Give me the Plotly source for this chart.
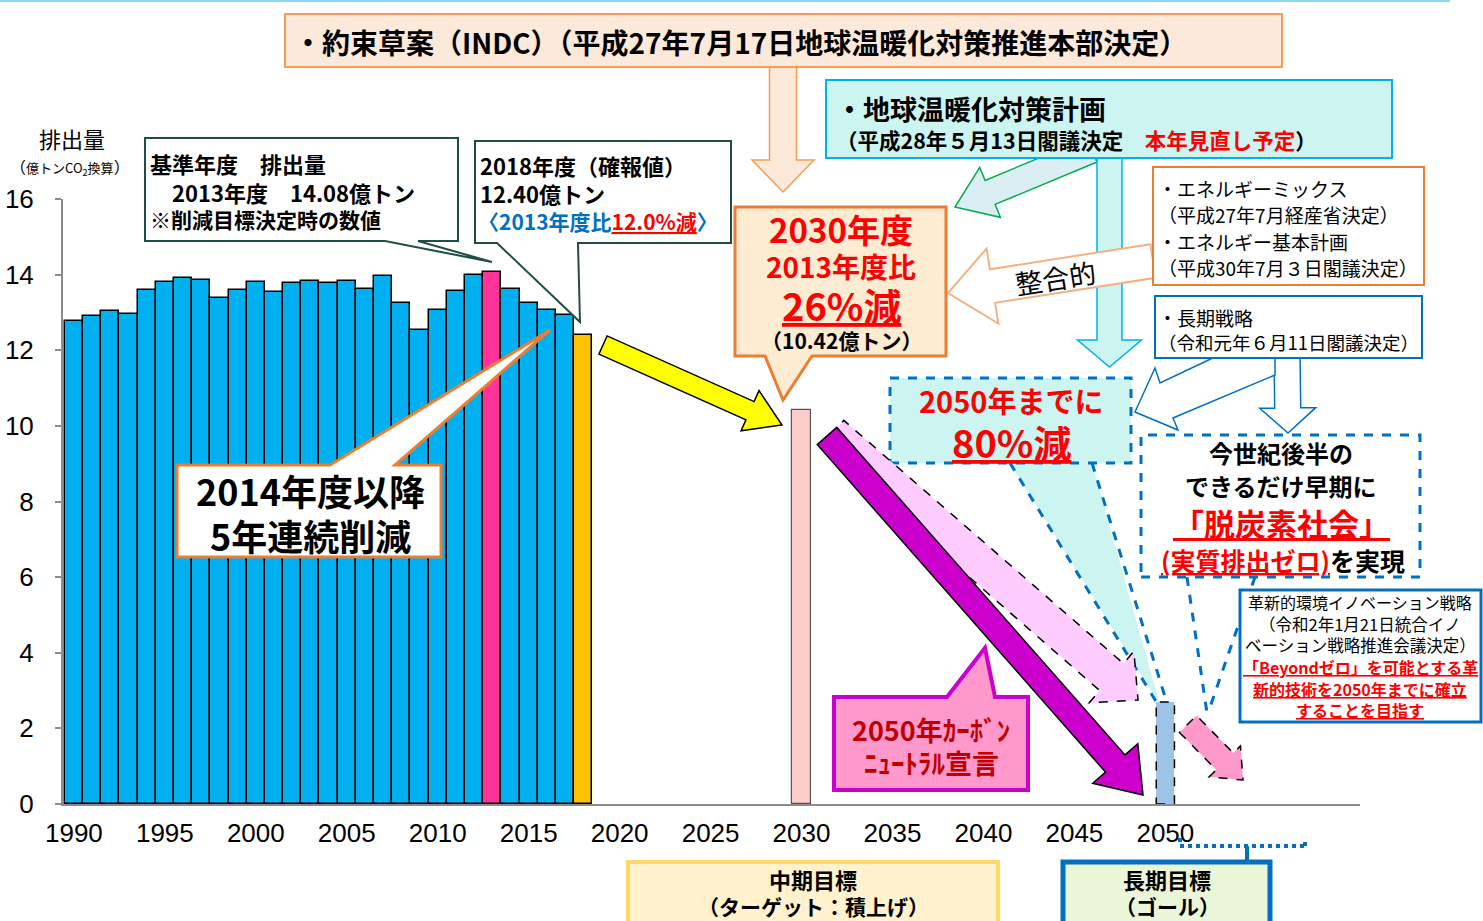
import math
import plotly.graph_objects as go

# ---------------- data ----------------
years_hist = list(range(1990, 2019))
emissions_hist = [12.77, 12.90, 13.03, 12.95, 13.60, 13.81, 13.92, 13.85, 13.37, 13.60,
                  13.81, 13.55, 13.78, 13.84, 13.77, 13.83, 13.62, 13.97, 13.26, 12.53,
                  13.06, 13.57, 13.99, 14.08, 13.62, 13.24, 13.06, 12.93, 12.40]
base_year = 2013
latest_year = 2018
target_years = [2030, 2050]
target_values = [10.42, 2.7]
x_ticks = [1990, 1995, 2000, 2005, 2010, 2015, 2020, 2025, 2030, 2035, 2040, 2045, 2050]
y_ticks = [0, 2, 4, 6, 8, 10, 12, 14, 16]

# ---------------- layout geometry ----------------
W, H = 1483, 921
L, R, T, B = 63, 1360, 199, 804
JP = "Noto Sans CJK JP"
NUM = "Liberation Sans Narrow, Arial Narrow, Liberation Sans, Arial"


def px(x):
    return (x - L) / (R - L)


def py(y):
    return (B - y) / (B - T)


shapes = []
annotations = []


def rect(x0, y0, x1, y1, fill, line, width, dash="solid"):
    shapes.append(dict(type="rect", xref="paper", yref="paper",
                       x0=px(x0), x1=px(x1), y0=py(y1), y1=py(y0),
                       fillcolor=fill, line=dict(color=line, width=width, dash=dash),
                       layer="above"))


def poly(pts, fill, line, width, dash="solid"):
    path = "M " + " L ".join(f"{px(x):.5f},{py(y):.5f}" for x, y in pts) + " Z"
    shapes.append(dict(type="path", path=path, xref="paper", yref="paper",
                       fillcolor=fill, line=dict(color=line, width=width, dash=dash),
                       layer="above"))


def seg(x0, y0, x1, y1, color, width, dash="solid"):
    shapes.append(dict(type="line", xref="paper", yref="paper",
                       x0=px(x0), y0=py(y0), x1=px(x1), y1=py(y1),
                       line=dict(color=color, width=width, dash=dash), layer="above"))


def arrow_pts(S, Tp, sw, hl, hw):
    sx, sy = S
    tx, ty = Tp
    dx, dy = tx - sx, ty - sy
    ln = math.hypot(dx, dy)
    ux, uy = dx / ln, dy / ln
    nx, ny = -uy, ux
    bx, by = tx - ux * hl, ty - uy * hl
    return [(sx + nx * sw, sy + ny * sw), (bx + nx * sw, by + ny * sw),
            (bx + nx * hw, by + ny * hw), (tx, ty),
            (bx - nx * hw, by - ny * hw), (bx - nx * sw, by - ny * sw),
            (sx - nx * sw, sy - ny * sw)]


def txt(x, y, s, size, color="black", bold=True, xanchor="center", angle=0):
    annotations.append(dict(x=px(x), y=py(y), xref="paper", yref="paper",
                            text=("<b>" + s + "</b>") if bold else s,
                            showarrow=False, xanchor=xanchor, yanchor="middle",
                            textangle=angle,
                            font=dict(size=size, color=color, family=JP)))


RED = "#FF0000"
BLUE = "#0070C0"
ORANGE = "#ED7D31"
DKGREEN = "#1F4E48"

# top thin line
seg(0, 1, 1450, 1, "#8AD8EE", 2)

# INDC arrow + box
poly(arrow_pts((783, 60), (783, 192), 13.5, 32, 31), "#FDE9D9", "#F59D56", 1.5)
rect(285, 14, 1282, 67, "#FDE9D9", "#F59D56", 2)
txt(292, 42, "・約束草案（INDC）（平成27年7月17日地球温暖化対策推進本部決定）", 28, xanchor="left")

# 地球温暖化対策計画 arrows + box
poly(arrow_pts((1092, 150), (955, 207), 13, 38, 27), "#DAEEF3", "#00B050", 1.5)
poly(arrow_pts((1109.5, 150), (1109.5, 367), 12.5, 27, 32), "#CCF5F2", "#00B0F0", 1.5)
rect(826, 80, 1392, 158, "#CCF5F2", "#00B0F0", 2)
txt(834, 108, "・地球温暖化対策計画", 27, xanchor="left")
txt(834, 139, "（平成28年５月13日閣議決定　<span style='color:#FF0000'>本年見直し予定</span>）", 21.5, xanchor="left")

# 整合的 arrow + energy box
poly(arrow_pts((1153, 261), (948, 293), 17, 45, 38), "#FFFFFF", "#F4B183", 2)
txt(1055, 277, "整合的", 27, bold=False, angle=-9)
rect(1153, 167, 1424, 285, "#FFFFFF", ORANGE, 2)
txt(1156, 188, "・エネルギーミックス", 19, bold=False, xanchor="left")
txt(1156, 214, "（平成27年7月経産省決定）", 19, bold=False, xanchor="left")
txt(1156, 241, "・エネルギー基本計画", 19, bold=False, xanchor="left")
txt(1156, 267, "（平成30年7月３日閣議決定）", 19, bold=False, xanchor="left")

# 2030 callout
poly([(735, 207), (946, 207), (946, 356), (812, 356), (783, 400), (765, 356), (735, 356)],
     "#FDEBD2", ORANGE, 3)
txt(841, 229, "2030年度", 33, RED)
txt(841, 266, "2013年度比", 28, RED)
txt(841, 304, "<u>26%減</u>", 38, RED)
txt(841, 340, "（10.42億トン）", 21)

# 長期戦略 arrows + box
poly(arrow_pts((1287, 350), (1288, 433), 13, 25, 28), "#FFFFFF", BLUE, 1.5)
poly([(1217, 356), (1160, 383), (1155, 368), (1135, 412), (1178, 430), (1173, 418),
      (1275, 375), (1275, 356)], "#FFFFFF", BLUE, 1.5)
rect(1155, 296, 1422, 358, "#FFFFFF", BLUE, 2)
txt(1156, 317, "・長期戦略", 19, bold=False, xanchor="left")
txt(1156, 342, "（令和元年６月11日閣議決定）", 18.5, bold=False, xanchor="left")

# 2050年までに callout
poly([(1010, 463), (1160, 705), (1092, 463)], "#CCF5F2", "rgba(0,0,0,0)", 0)
seg(1010, 463, 1157, 703, BLUE, 3, "dash")
seg(1092, 463, 1167, 703, BLUE, 3, "dash")
rect(890, 378, 1131, 463, "#CCF5F2", BLUE, 3, "dash")
txt(1011, 400, "2050年までに", 29, RED)
txt(1011, 441, "<u>80%減</u>", 38, RED)

# 今世紀後半 box
seg(1187, 577, 1207, 713, BLUE, 3, "dash")
seg(1255, 577, 1208, 713, BLUE, 3, "dash")
rect(1141, 435, 1420, 577, "#FFFFFF", BLUE, 3, "dash")
txt(1281, 452, "今世紀後半の", 24)
txt(1281, 485, "できるだけ早期に", 24)
txt(1281, 522, "<u>「脱炭素社会」</u>", 31, RED)
txt(1283, 560, "<span style='color:#FF0000'><u>(実質排出ゼロ)</u></span>を実現", 25)

# innovation box
rect(1240, 590, 1481, 722, "#FFFFFF", BLUE, 3)
txt(1360, 602, "革新的環境イノベーション戦略", 16, bold=False)
txt(1360, 624, "（令和2年1月21日統合イノ", 16.5, bold=False)
txt(1360, 645, "ベーション戦略推進会議決定）", 16.5, bold=False)
txt(1360, 667, "<u>「Beyondゼロ」を可能とする革</u>", 16, RED)
txt(1360, 689, "<u>新的技術を2050年までに確立</u>", 16, RED)
txt(1360, 710, "<u>することを目指す</u>", 16, RED)

# pink small arrow
poly(arrow_pts((1188, 724), (1243, 780), 12, 26, 22), "#FF99CC", "#000000", 1.5, "dash")

# light pink + purple arrows
poly(arrow_pts((832, 434), (1138, 700), 18, 35, 34), "#FFCCFF", "#000000", 1.5, "dash")
poly(arrow_pts((827, 436), (1143, 795), 13, 42, 30), "#CC00CC", "#000000", 1.5)

# carbon neutral callout
poly([(834, 697), (947, 697), (985, 648), (995, 697), (1028, 697), (1028, 790), (834, 790)],
     "#FF99CC", "#CC00CC", 4)
txt(931, 729, "2050年ｶｰﾎﾞﾝ", 27, "#C00000")
txt(931, 762, "ﾆｭｰﾄﾗﾙ宣言", 27, "#C00000")

# yellow arrow
poly(arrow_pts((603, 345), (782, 425), 10, 35, 22), "#FFFF00", "#000000", 1.5)

# 2014 callout
poly([(177, 465), (330, 465), (550, 330), (395, 465), (441, 465), (441, 557), (177, 557)],
     "#FFFFFF", ORANGE, 3)
txt(310, 490, "2014年度以降", 36)
txt(310, 535, "5年連続削減", 36)

# 基準年度 callout
poly([(145, 138), (458, 138), (458, 241), (418, 241), (492, 262), (385, 241), (145, 241)],
     "#FFFFFF", DKGREEN, 2)
txt(148, 163, "基準年度　排出量", 22, xanchor="left")
txt(148, 192, "　2013年度　14.08億トン", 22, xanchor="left")
txt(148, 219, "※削減目標決定時の数値", 21, xanchor="left")

# 2018 callout
poly([(475, 141), (731, 141), (731, 243), (578, 243), (580, 322), (497, 243), (475, 243)],
     "#FFFFFF", DKGREEN, 2)
txt(478, 165, "2018年度（確報値）", 22, xanchor="left")
txt(478, 193, "12.40億トン", 22, xanchor="left")
txt(476, 221, "<span style='color:#0070C0'>〈2013年度比</span><span style='color:#FF0000'><u>12.0%減</u></span><span style='color:#0070C0'>〉</span>", 21, xanchor="left")

# bottom boxes
rect(628, 862, 998, 935, "#FFF2CC", "#FFD966", 4)
txt(813, 879, "中期目標", 22)
txt(813, 906, "（ターゲット：積上げ）", 21)
rect(1063, 862, 1270, 935, "#EBF5D7", BLUE, 5)
txt(1167, 879, "長期目標", 22)
txt(1167, 906, "（ゴール）", 21)
seg(1180, 838, 1180, 846, BLUE, 4, "dot")
seg(1180, 846, 1305, 846, BLUE, 4, "dot")
seg(1305, 846, 1305, 838, BLUE, 4, "dot")
seg(1247, 846, 1247, 862, BLUE, 4)

# y axis title
txt(72, 138, "排出量", 22, bold=False)
txt(70, 166, "（<span style='font-size:13px'>億トンCO<sub>2</sub>換算</span>）", 16, bold=False)

# 2050 bar dashed outline (data coords)
shapes.append(dict(type="rect", xref="x", yref="y",
                   x0=target_years[1] - 0.5, x1=target_years[1] + 0.5,
                   y0=0, y1=target_values[1],
                   line=dict(color="#000000", width=1.5, dash="dash"),
                   fillcolor="rgba(0,0,0,0)", layer="above"))

# ---------------- traces ----------------
hist_colors = ["#FF3399" if y == base_year else ("#FFC000" if y == latest_year else "#00B0F0")
               for y in years_hist]

fig = go.Figure()
fig.add_trace(go.Bar(x=years_hist, y=emissions_hist, width=1.0,
                     marker=dict(color=hist_colors, line=dict(color="#000000", width=1.5)),
                     showlegend=False, hoverinfo="x+y"))
fig.add_trace(go.Bar(x=[target_years[0]], y=[target_values[0]], width=1.0,
                     marker=dict(color="#FFCCCC", line=dict(color="#555555", width=1.2)),
                     showlegend=False))
fig.add_trace(go.Bar(x=[target_years[1]], y=[target_values[1]], width=1.0,
                     marker=dict(color="#9DC3E6", line=dict(width=0)),
                     showlegend=False))

fig.update_layout(
    width=W, height=H,
    margin=dict(l=L, r=W - R, t=T, b=H - B, pad=0, autoexpand=False),
    paper_bgcolor="white", plot_bgcolor="white",
    barmode="overlay", bargap=0,
    shapes=shapes, annotations=annotations,
    xaxis=dict(range=[1989.4, 2060.7], tickvals=x_ticks, ticktext=[str(v) for v in x_ticks],
               showline=True, linecolor="#8C8C8C", linewidth=2, ticks="",
               showgrid=False, zeroline=False, ticklabelstandoff=5,
               tickfont=dict(family=NUM, size=26, color="#000000")),
    yaxis=dict(range=[0, 16], tickvals=y_ticks, showline=True, linecolor="#8C8C8C",
               linewidth=2, ticks="outside", ticklen=6, tickcolor="#8C8C8C", tickwidth=2,
               showgrid=False, zeroline=False, ticklabelstandoff=16,
               tickfont=dict(family=NUM, size=26, color="#000000")),
)

fig.write_html("out.html", config={"displayModeBar": False},
               post_script="document.body.style.margin='0px';document.body.style.overflow='hidden';")
